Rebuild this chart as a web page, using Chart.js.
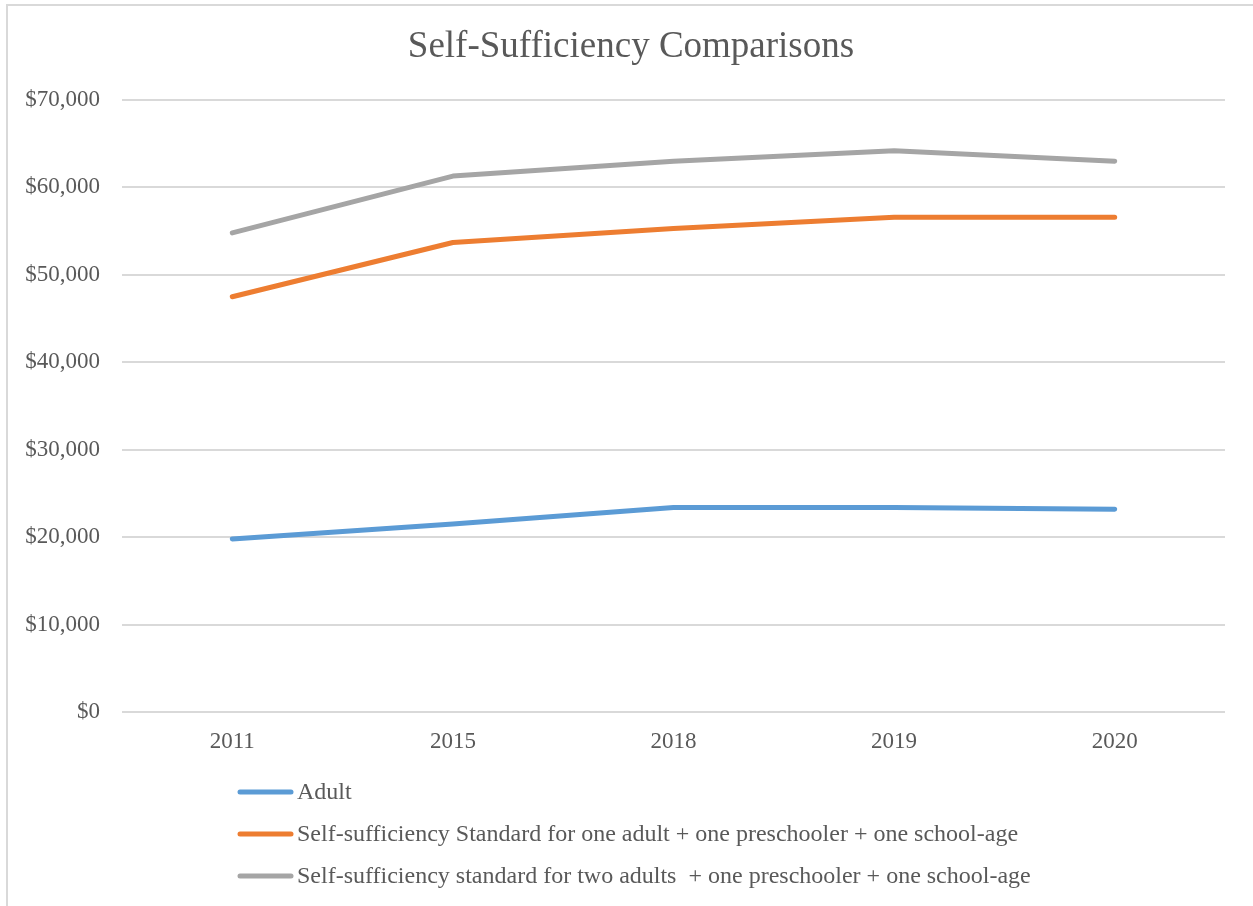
<!DOCTYPE html>
<html>
<head>
<meta charset="utf-8">
<script src="https://cdn.jsdelivr.net/npm/chart.js@4.4.1/dist/chart.umd.min.js"></script>
<style>
    html, body { margin: 0; padding: 0; background: #fff; }
    #wrap { position: absolute; left: 0; top: 0; width: 1253px; height: 906px; }
    #frame { position: absolute; left: 6px; top: 4px; width: 1247px; height: 902px;
             border-top: 2px solid #d9d9d9; border-left: 2px solid #d9d9d9; box-sizing: border-box; }
</style>
</head>
<body>
<div id="wrap">
    <canvas id="line-chart" width="1253" height="906"></canvas>
</div>
<div id="frame"></div>
<script>
const years = ["2011", "2015", "2018", "2019", "2020"];
const adult = [19800, 21500, 23400, 23400, 23200];
const oneAdultTwoKids = [47500, 53700, 55300, 56600, 56600];
const twoAdultsTwoKids = [54800, 61300, 63000, 64200, 63000];
const seriesNames = [
    "Adult",
    "Self-sufficiency Standard for one adult + one preschooler + one school-age",
    "Self-sufficiency standard for two adults  + one preschooler + one school-age"
];
const yTicks = [0, 10000, 20000, 30000, 40000, 50000, 60000, 70000];
const chartTitle = "Self-Sufficiency Comparisons";

const serif = "'Liberation Serif', 'Times New Roman', serif";
const textGrey = "#595959";

// title + vertical legend list, placed like the original
const sheetDecor = {
    id: 'sheetDecor',
    afterDraw(chart) {
        const ctx = chart.ctx;
        ctx.save();
        ctx.fillStyle = textGrey;
        ctx.textBaseline = "middle";

        ctx.font = "37px " + serif;
        ctx.textAlign = "center";
        ctx.fillText(chartTitle, 631, 47);

        ctx.font = "24px " + serif;
        ctx.textAlign = "left";
        chart.data.datasets.forEach((ds, i) => {
            const y = 792 + i * 42;
            ctx.strokeStyle = ds.borderColor;
            ctx.lineWidth = 5;
            ctx.lineCap = "round";
            ctx.beginPath();
            ctx.moveTo(240, y);
            ctx.lineTo(291, y);
            ctx.stroke();
            ctx.fillText(ds.label, 297, y + 1);
        });
        ctx.restore();
    }
};

new Chart(document.getElementById("line-chart"), {
    type: 'line',
    data: {
        labels: years,
        datasets: [{
            data: adult,
            label: seriesNames[0],
            borderColor: "#5b9bd5",
            backgroundColor: "#5b9bd5"
        }, {
            data: oneAdultTwoKids,
            label: seriesNames[1],
            borderColor: "#ed7d31",
            backgroundColor: "#ed7d31"
        }, {
            data: twoAdultsTwoKids,
            label: seriesNames[2],
            borderColor: "#a5a5a5",
            backgroundColor: "#a5a5a5"
        }]
    },
    options: {
        responsive: false,
        animation: false,
        devicePixelRatio: 1,
        elements: {
            line: { borderWidth: 5, tension: 0, borderCapStyle: 'round', borderJoinStyle: 'round' },
            point: { radius: 0, hoverRadius: 0 }
        },
        layout: {
            padding: { left: 10, right: 28, top: 100, bottom: 150 }
        },
        plugins: {
            legend: { display: false },
            tooltip: { enabled: false },
            title: { display: false }
        },
        scales: {
            x: {
                offset: true,
                grid: { display: false, drawTicks: false },
                border: { display: false },
                ticks: { color: textGrey, font: { family: serif, size: 23 }, padding: 16, autoSkip: false, maxRotation: 0 },
                afterFit(s) { s.height = 44; }
            },
            y: {
                min: yTicks[0],
                max: yTicks[yTicks.length - 1],
                grid: { color: "#d9d9d9", lineWidth: 2, drawTicks: false },
                border: { display: false },
                ticks: {
                    stepSize: yTicks[1] - yTicks[0],
                    color: textGrey,
                    font: { family: serif, size: 23 },
                    padding: 22,
                    callback: v => "$" + v.toLocaleString("en-US")
                },
                afterFit(s) { s.width = 112; }
            }
        }
    },
    plugins: [sheetDecor]
});
</script>
</body>
</html>
